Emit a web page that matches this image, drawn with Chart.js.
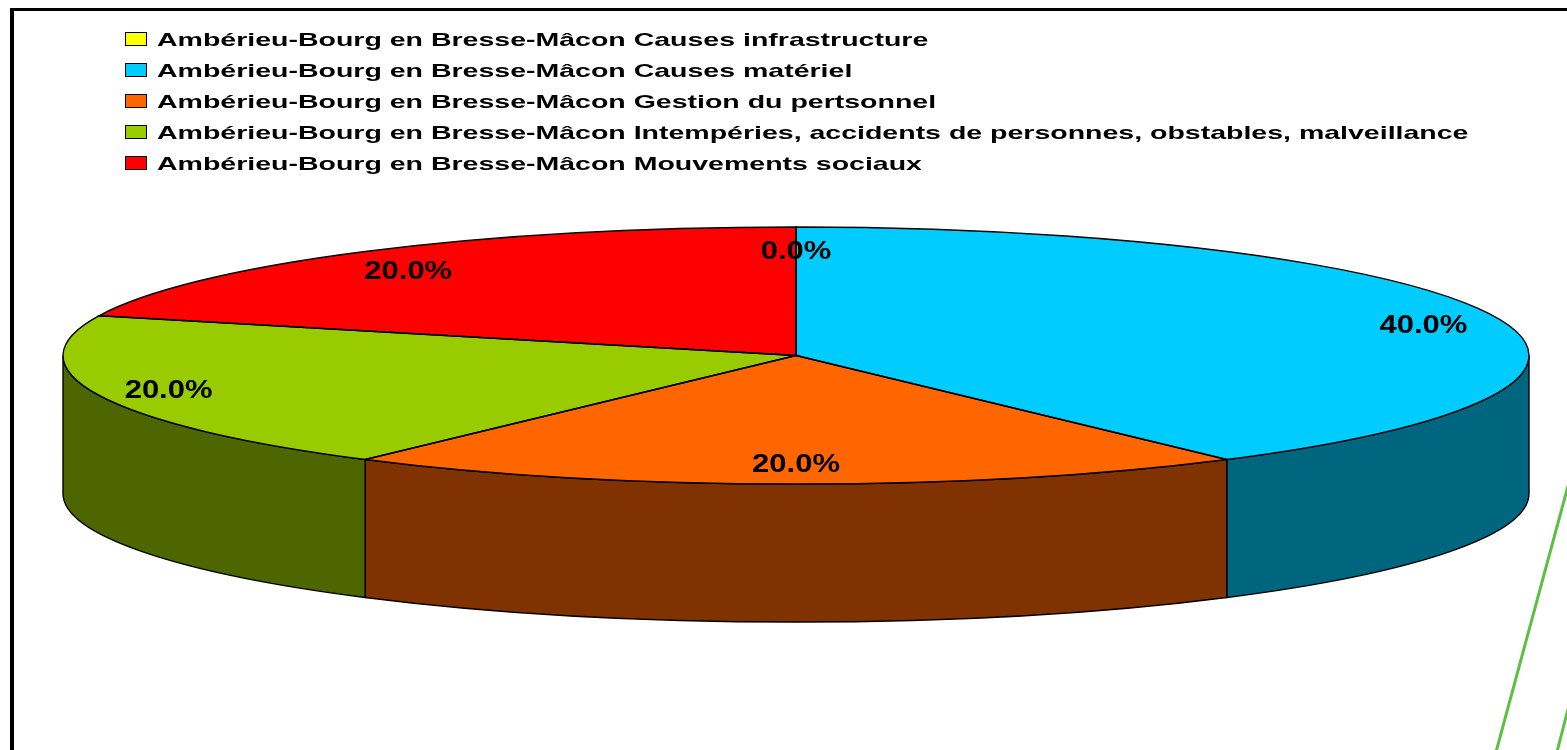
<!DOCTYPE html>
<html>
<head>
<meta charset="utf-8">
<title>Ambérieu-Bourg en Bresse-Mâcon</title>
<script src="https://cdn.jsdelivr.net/npm/chart.js@4.4.1/dist/chart.umd.min.js"></script>
<style>
  html, body { margin: 0; padding: 0; background: #fff; }
  #wrap { position: relative; width: 1567px; height: 750px; overflow: hidden; }
  #frame { position: absolute; left: 10px; top: 8px; width: 1600px; height: 800px;
           border-left: 4px solid #000; border-top: 3px solid #000; }
  canvas { position: absolute; left: 0; top: 0; }
  #legend { position: absolute; left: 0; top: 0; font: bold 19px "Liberation Sans", Arial, sans-serif; color: #000; }
  .item { position: absolute; left: 125px; height: 19px; white-space: nowrap; }
  .box { position: absolute; left: 0; top: 2px; width: 20px; height: 12px; border: 1px solid #000; }
  .txt { position: absolute; left: 32px; top: 0; line-height: 19px; transform: scaleX(1.5); transform-origin: 0 0; }
</style>
</head>
<body>
<div id="wrap">
  <div id="frame"></div>
  <canvas id="pieCanvas" width="1567" height="750"></canvas>
  <div id="legend"></div>
</div>
<script>
// Chart data
const labels = [
    'Ambérieu-Bourg en Bresse-Mâcon Causes infrastructure',
    'Ambérieu-Bourg en Bresse-Mâcon Causes matériel',
    'Ambérieu-Bourg en Bresse-Mâcon Gestion du pertsonnel',
    'Ambérieu-Bourg en Bresse-Mâcon Intempéries, accidents de personnes, obstables, malveillance',
    'Ambérieu-Bourg en Bresse-Mâcon Mouvements sociaux'
];
const values = [0, 40, 20, 20, 20];
const topColors = ['#FFFF00', '#00CCFF', '#FF6600', '#99CC00', '#FF0000'];
const sideColors = ['#808000', '#006680', '#803300', '#4D6600', '#800000'];

const DEPTH = 138;        // height of the pie side
const LABEL_FX = 0.9;     // label distance from centre, horizontal
const LABEL_FY = 0.83;    // label distance from centre, vertical

// the chart area is the ellipse's bounding box, stretch the circle to it
function stretchX(chart) {
    const a = chart.chartArea;
    return a.width / a.height;
}

function applyStretch(ctx, arc, sx) {
    ctx.translate(arc.x, arc.y);
    ctx.scale(sx, 1);
    ctx.translate(-arc.x, -arc.y);
}

const pie3d = {
    id: 'pie3d',
    beforeDatasetsDraw(chart) {
        const ctx = chart.ctx;
        const arcs = chart.getDatasetMeta(0).data;
        const sx = stretchX(chart);
        const TWO_PI = Math.PI * 2;

        // side walls: only the front half (0..PI) shows
        arcs.forEach((arc, i) => {
            if (arc.circumference <= 0) return;
            const rx = arc.outerRadius * sx;
            const ry = arc.outerRadius;
            let a = arc.startAngle;
            while (a < 0) a += TWO_PI;
            const b = a + arc.circumference;
            [0, TWO_PI].forEach(k => {
                const lo = Math.max(a, k);
                const hi = Math.min(b, k + Math.PI);
                if (hi <= lo) return;
                ctx.beginPath();
                ctx.ellipse(arc.x, arc.y, rx, ry, 0, lo, hi);
                ctx.ellipse(arc.x, arc.y + DEPTH, rx, ry, 0, hi, lo, true);
                ctx.closePath();
                ctx.fillStyle = sideColors[i];
                ctx.fill();
                ctx.lineWidth = 1.4;
                ctx.strokeStyle = '#000';
                ctx.stroke();
            });
        });

        ctx.save();
        if (arcs.length) applyStretch(ctx, arcs[0], sx);
    },
    afterDatasetsDraw(chart) {
        const ctx = chart.ctx;
        ctx.restore();
        const arcs = chart.getDatasetMeta(0).data;
        const sx = stretchX(chart);

        // outlines of the top face, path built stretched, stroked unstretched
        arcs.forEach(arc => {
            if (arc.circumference <= 0) return;
            ctx.save();
            applyStretch(ctx, arc, sx);
            ctx.beginPath();
            ctx.moveTo(arc.x, arc.y);
            ctx.arc(arc.x, arc.y, arc.outerRadius, arc.startAngle, arc.endAngle);
            ctx.closePath();
            ctx.restore();
            ctx.lineWidth = 1.4;
            ctx.strokeStyle = '#000';
            ctx.stroke();
        });

        // percentage labels
        const total = values.reduce((s, v) => s + v, 0);
        ctx.save();
        ctx.font = 'bold 25px "Liberation Sans", Arial, sans-serif';
        ctx.fillStyle = '#000';
        ctx.textAlign = 'center';
        ctx.textBaseline = 'alphabetic';
        arcs.forEach((arc, i) => {
            const mid = (arc.startAngle + arc.endAngle) / 2;
            const x = arc.x + LABEL_FX * arc.outerRadius * sx * Math.cos(mid);
            const y = arc.y + LABEL_FY * arc.outerRadius * Math.sin(mid);
            const text = (values[i] / total * 100).toFixed(1) + '%';
            ctx.save();
            ctx.translate(x, y + 10);
            ctx.scale(1.24, 1);
            ctx.fillText(text, 0, 0);
            ctx.restore();
        });
        ctx.restore();
    },
    afterDraw(chart) {
        // green strokes at the lower right corner
        const ctx = chart.ctx;
        ctx.save();
        ctx.strokeStyle = '#5FBE46';
        ctx.lineWidth = 3;
        ctx.beginPath();
        ctx.moveTo(1568, 486);
        ctx.lineTo(1496, 752);
        ctx.moveTo(1568, 709);
        ctx.lineTo(1557, 752);
        ctx.stroke();
        ctx.restore();
    }
};

// HTML legend
const legendEl = document.getElementById('legend');
labels.forEach((label, i) => {
    const item = document.createElement('div');
    item.className = 'item';
    item.style.top = (30 + i * 31) + 'px';
    item.innerHTML = '<span class="box" style="background:' + topColors[i] + '"></span>' +
        '<span class="txt"></span>';
    item.querySelector('.txt').textContent = label;
    legendEl.appendChild(item);
});

const ctx = document.getElementById('pieCanvas').getContext('2d');
new Chart(ctx, {
    type: 'pie',
    data: {
        labels: labels,
        datasets: [{
            data: values,
            backgroundColor: topColors,
            borderWidth: 0,
            offset: 0,
            hoverOffset: 0,
            clip: false
        }]
    },
    options: {
        responsive: false,
        animation: false,
        rotation: 0,
        layout: { padding: { left: 63, right: 38, top: 227, bottom: 266 } },
        plugins: {
            legend: { display: false },
            tooltip: { enabled: false }
        },
        events: []
    },
    plugins: [pie3d]
});
</script>
</body>
</html>
